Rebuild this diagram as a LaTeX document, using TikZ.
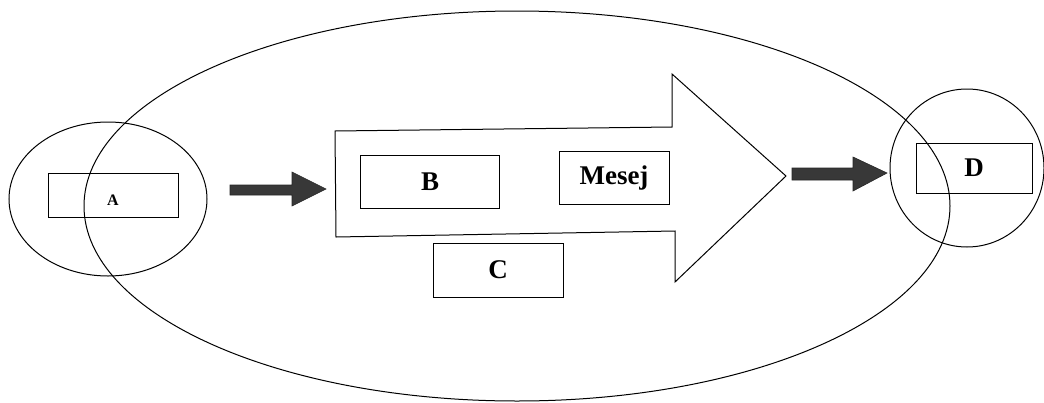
\documentclass[tikz,border=0pt]{standalone}
\usepackage{fontspec}
\setmainfont{Liberation Serif}
\usetikzlibrary{shapes.geometric}
\begin{document}
\begin{tikzpicture}[x=1pt,y=-1pt,line width=1pt,
  box/.style={draw,rectangle,inner sep=0pt,font=\bfseries\fontsize{27}{30}\selectfont},
  ring/.style={draw,ellipse,inner sep=0pt},
  darrow/.style={fill=black!78,draw=black!85,line width=0.6pt}]
\useasboundingbox (0,0) rectangle (1044,402);
% big ellipse
\node[ring,minimum width=866,minimum height=390] (big) at (517,206) {};
% left circle
\node[ring,minimum width=198,minimum height=154] (lc) at (108,199) {};
% right circle
\node[ring,minimum width=154,minimum height=158] (rc) at (967,168) {};
% boxes
\node[box,minimum width=130,minimum height=44] (A) at (113,195) {};
\node[font=\bfseries\fontsize{16}{18}\selectfont] (Alab) at (113,200) {A};
\node[box,minimum width=116,minimum height=50] (D) at (974,168) {D};
% big block arrow
\draw[fill=white] (335,131) -- (672,127) -- (672,74) -- (786,176) -- (675,282) -- (675,231) -- (336,237) -- cycle;
\node[box,minimum width=139,minimum height=53] (B) at (430,182) {B};
\node[box,minimum width=110,minimum height=53] (M) at (614,178) {Mesej};
\node[box,minimum width=130,minimum height=54] (C) at (498,270) {C};
% dark arrows
\draw[darrow] (230,185) -- (292,185) -- (292,172) -- (326,189) -- (292,206) -- (292,195) -- (230,195) -- cycle;
\draw[darrow] (792,168) -- (853,168) -- (853,157) -- (887,173) -- (853,191) -- (853,180) -- (792,180) -- cycle;
\end{tikzpicture}
\end{document}
